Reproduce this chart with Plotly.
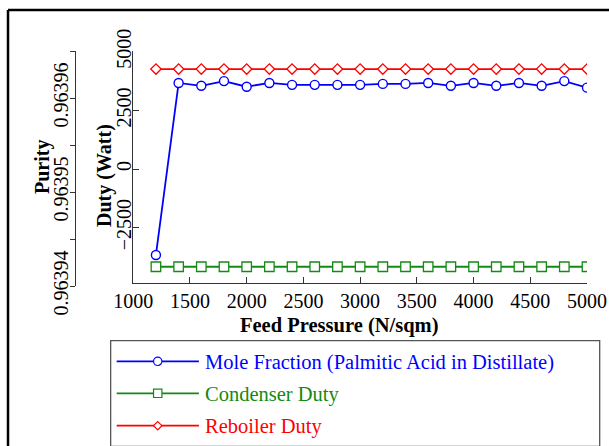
import plotly.graph_objects as go

# ---------------- data ----------------
feed_pressure = [1200, 1400, 1600, 1800, 2000, 2200, 2400, 2600, 2800, 3000,
                 3200, 3400, 3600, 3800, 4000, 4200, 4400, 4600, 4800, 5000]
mole_fraction = [0.9639433, 0.9639616, 0.9639613, 0.9639618, 0.9639612, 0.9639616,
                 0.9639614, 0.9639614, 0.9639614, 0.9639614, 0.9639615, 0.9639615,
                 0.9639616, 0.9639613, 0.9639616, 0.9639613, 0.9639616, 0.9639613,
                 0.9639618, 0.9639611]
condenser_duty = [-4170] * 20
reboiler_duty = [4265] * 20

x_ticks = [1000, 1500, 2000, 2500, 3000, 3500, 4000, 4500, 5000]
duty_ticks = [-2500, 0, 2500, 5000]
purity_ticks = [0.96394, 0.963945, 0.96395, 0.963955, 0.96396, 0.963965]
purity_ticklabels = ["0.96394", "", "0.96395", "", "0.96396", ""]

series_names = ["Mole Fraction (Palmitic Acid in Distillate)", "Condenser Duty", "Reboiler Duty"]
series_colors = ["#0000ff", "#138a13", "#ff0000"]

# ---------------- layout geometry ----------------
W, H = 609, 446
L, R, T, B = 20, 21.7, 51, 160
PW, PH = W - L - R, H - T - B
FONT = "Liberation Serif, Times New Roman, serif"


def fx(px):
    return (px - L) / PW


def fy(py):
    return (H - B - py) / PH


fig = go.Figure()

fig.add_trace(go.Scatter(
    x=feed_pressure, y=mole_fraction, xaxis="x", yaxis="y2", mode="lines+markers",
    name=series_names[0], line=dict(color=series_colors[0], width=1.8),
    marker=dict(symbol="circle", size=9, color="white",
                line=dict(color=series_colors[0], width=1.4)),
    showlegend=False))
fig.add_trace(go.Scatter(
    x=feed_pressure, y=condenser_duty, xaxis="x", yaxis="y", mode="lines+markers",
    name=series_names[1], line=dict(color=series_colors[1], width=1.8),
    marker=dict(symbol="square", size=9.5, color="white",
                line=dict(color=series_colors[1], width=1.3)),
    showlegend=False))
fig.add_trace(go.Scatter(
    x=feed_pressure, y=reboiler_duty, xaxis="x", yaxis="y", mode="lines+markers",
    name=series_names[2], line=dict(color=series_colors[2], width=1.8),
    marker=dict(symbol="diamond", size=8, color="white",
                line=dict(color=series_colors[2], width=1.3)),
    showlegend=False))

axis_line = "#333333"
tickfont = dict(family=FONT, size=20, color="black")

shapes = []
# outer frame (top and left)
shapes.append(dict(type="line", xref="paper", yref="paper", x0=fx(8), y0=fy(10), x1=fx(615), y1=fy(10),
                   line=dict(color="black", width=2.5)))
shapes.append(dict(type="line", xref="paper", yref="paper", x0=fx(8), y0=fy(10), x1=fx(8), y1=fy(452),
                   line=dict(color="black", width=2.5)))
# legend box
shapes.append(dict(type="rect", xref="paper", yref="paper", x0=fx(110.7), y0=fy(340.7), x1=fx(600), y1=fy(446.3),
                   line=dict(color="#555555", width=1.3), fillcolor="white", layer="below"))

annotations = []
row_y = [361.3, 393.3, 425.7]
lx0, lx1, mx = 116.7, 199, 157.8
mr = 4.2
for i in range(3):
    c = series_colors[i]
    yy = row_y[i]
    shapes.append(dict(type="line", xref="paper", yref="paper", x0=fx(lx0), y0=fy(yy), x1=fx(lx1), y1=fy(yy),
                       line=dict(color=c, width=1.8)))
    if i == 0:
        shapes.append(dict(type="circle", xref="paper", yref="paper", x0=fx(mx - mr), x1=fx(mx + mr),
                           y0=fy(yy - mr), y1=fy(yy + mr), line=dict(color=c, width=1.2), fillcolor="white"))
    elif i == 1:
        shapes.append(dict(type="rect", xref="paper", yref="paper", x0=fx(mx - mr), x1=fx(mx + mr),
                           y0=fy(yy - mr), y1=fy(yy + mr), line=dict(color=c, width=1.2), fillcolor="white"))
    else:
        path = "M {a},{b} L {c},{d} L {e},{f} L {g},{h} Z".format(
            a=fx(mx - mr), b=fy(yy), c=fx(mx), d=fy(yy - mr), e=fx(mx + mr), f=fy(yy), g=fx(mx), h=fy(yy + mr))
        shapes.append(dict(type="path", xref="paper", yref="paper", path=path,
                           line=dict(color=c, width=1.2), fillcolor="white"))
    annotations.append(dict(xref="paper", yref="paper", x=fx(203.5), y=fy(yy + 1), xanchor="left", yanchor="middle",
                            text=series_names[i], showarrow=False,
                            font=dict(family=FONT, size=20.5, color=c)))

# axis titles
annotations.append(dict(xref="paper", yref="paper", x=fx(340), y=fy(325), xanchor="center", yanchor="middle",
                        text="<b>Feed Pressure (N/sqm)</b>", showarrow=False,
                        font=dict(family=FONT, size=20.5, color="black")))
annotations.append(dict(xref="paper", yref="paper", x=fx(42), y=fy(167), xanchor="center", yanchor="middle",
                        text="<b>Purity</b>", textangle=-90, showarrow=False,
                        font=dict(family=FONT, size=20, color="black")))
annotations.append(dict(xref="paper", yref="paper", x=fx(104), y=fy(175), xanchor="center", yanchor="middle",
                        text="<b>Duty (Watt)</b>", textangle=-90, showarrow=False,
                        font=dict(family=FONT, size=20, color="black")))

fig.update_layout(
    template="none",
    width=W, height=H,
    margin=dict(l=L, r=R, t=T, b=B, pad=0, autoexpand=False),
    paper_bgcolor="white", plot_bgcolor="rgba(0,0,0,0)",
    font=dict(family=FONT, size=20, color="black"),
    showlegend=False,
    xaxis=dict(domain=[fx(133.3), 1], range=[1000, 5000], tickmode="array", tickvals=x_ticks,
               ticks="inside", ticklen=6, tickcolor=axis_line, tickwidth=1.2, automargin=False,
               showline=True, linecolor=axis_line, linewidth=1.3, showgrid=False, zeroline=False,
               anchor="y", tickfont=tickfont),
    yaxis=dict(domain=[fy(282.7), 1], range=[-4850, 5035], tickmode="array", tickvals=duty_ticks,
               tickangle=-90, ticks="inside", ticklen=6, tickcolor=axis_line, tickwidth=1.2,
               automargin=False, ticklabelstandoff=-7,
               showline=True, linecolor=axis_line, linewidth=1.3, showgrid=False, zeroline=False,
               anchor="x", tickfont=tickfont),
    yaxis2=dict(domain=[0, 1], range=[0.96394, 0.963965], tickmode="array", tickvals=purity_ticks,
                ticktext=purity_ticklabels, tickangle=-90, ticks="outside", ticklen=5, automargin=False,
                ticklabelstandoff=-6,
                tickcolor=axis_line, tickwidth=1.2, showline=True, linecolor=axis_line, linewidth=1.3,
                showgrid=False, zeroline=False, anchor="free", position=fx(75), side="left",
                tickfont=tickfont),
    shapes=shapes,
    annotations=annotations,
)

fig.write_html("out.html")
